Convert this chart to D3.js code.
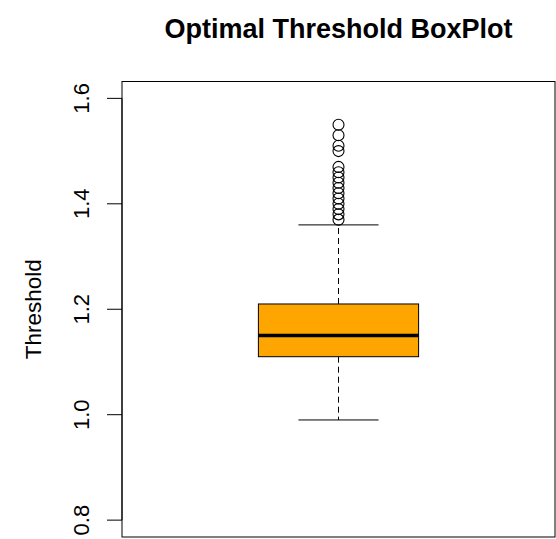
<!DOCTYPE html>
<html>
<head>
<meta charset="utf-8">
<script src="https://cdn.jsdelivr.net/npm/d3@7"></script>
<style>
  body { margin: 0; background: #fff; }
  svg { font-family: "Liberation Sans", Arial, sans-serif; }
</style>
</head>
<body>
<div id="chart"></div>
<script>
// box statistics
const quartiles = [1.11, 1.15, 1.21];   // Q1, median, Q3
const whiskers = [0.99, 1.36];         // lower, upper
const outliers = [1.55, 1.53, 1.51, 1.50, 1.47, 1.46, 1.45, 1.44, 1.43, 1.42, 1.41, 1.40, 1.39, 1.38, 1.37];
const yTicks = [0.8, 1.0, 1.2, 1.4, 1.6];
const yLimits = [0.8, 1.6];

const width = 556, height = 539;
const plot = { left: 122, right: 555, top: 81.5, bottom: 537 };

const svg = d3.select("#chart").append("svg")
  .attr("width", width)
  .attr("height", height);

// R extends the limits by 4%
const pad = (yLimits[1] - yLimits[0]) * 0.04;
const y = d3.scaleLinear()
  .domain([yLimits[0] - pad, yLimits[1] + pad])
  .range([plot.bottom, plot.top]);

const x = d3.scaleBand()
  .domain(["Threshold"])
  .range([plot.left, plot.right]);

const cx = x("Threshold") + x.bandwidth() / 2;
const boxHalf = x.bandwidth() * 0.185;
const capHalf = boxHalf / 2;

// whiskers (dashed)
svg.append("line")
  .attr("x1", cx).attr("x2", cx)
  .attr("y1", y(quartiles[2])).attr("y2", y(whiskers[1]))
  .attr("stroke", "#000").attr("stroke-dasharray", "6,4");
svg.append("line")
  .attr("x1", cx).attr("x2", cx)
  .attr("y1", y(quartiles[0])).attr("y2", y(whiskers[0]))
  .attr("stroke", "#000").attr("stroke-dasharray", "6,4");

// caps
svg.selectAll("line.cap")
  .data(whiskers)
  .enter()
  .append("line")
  .attr("class", "cap")
  .attr("x1", cx - capHalf).attr("x2", cx + capHalf)
  .attr("y1", d => y(d)).attr("y2", d => y(d))
  .attr("stroke", "#000");

// box
svg.append("rect")
  .attr("x", cx - boxHalf)
  .attr("y", y(quartiles[2]))
  .attr("width", boxHalf * 2)
  .attr("height", y(quartiles[0]) - y(quartiles[2]))
  .attr("fill", "#ffa500")
  .attr("stroke", "#000")
  .attr("stroke-width", 1);

// median
svg.append("line")
  .attr("x1", cx - boxHalf).attr("x2", cx + boxHalf)
  .attr("y1", y(quartiles[1])).attr("y2", y(quartiles[1]))
  .attr("stroke", "#000")
  .attr("stroke-width", 3.5);

// outliers
svg.selectAll("circle.out")
  .data(outliers)
  .enter()
  .append("circle")
  .attr("class", "out")
  .attr("cx", cx)
  .attr("cy", d => y(d))
  .attr("r", 5.5)
  .attr("fill", "none")
  .attr("stroke", "#000")
  .attr("stroke-width", 1.1);

// plot frame
svg.append("rect")
  .attr("x", plot.left).attr("y", plot.top)
  .attr("width", plot.right - plot.left)
  .attr("height", plot.bottom - plot.top)
  .attr("fill", "none")
  .attr("stroke", "#000");

// y axis, R style (rotated labels)
const axis = svg.append("g");
axis.append("line")
  .attr("x1", plot.left).attr("x2", plot.left)
  .attr("y1", y(yTicks[0])).attr("y2", y(yTicks[yTicks.length - 1]))
  .attr("stroke", "#000");
axis.selectAll("line.tick")
  .data(yTicks)
  .enter()
  .append("line")
  .attr("class", "tick")
  .attr("x1", plot.left - 15).attr("x2", plot.left)
  .attr("y1", d => y(d)).attr("y2", d => y(d))
  .attr("stroke", "#000");
axis.selectAll("text")
  .data(yTicks)
  .enter()
  .append("text")
  .attr("transform", d => `translate(${plot.left - 33.5},${y(d)}) rotate(-90)`)
  .attr("text-anchor", "middle")
  .attr("font-size", 22)
  .text(d => d.toFixed(1));

// y label
svg.append("text")
  .attr("transform", `translate(41,${(plot.top + plot.bottom) / 2}) rotate(-90)`)
  .attr("text-anchor", "middle")
  .attr("font-size", 22.5)
  .text("Threshold");

// title
svg.append("text")
  .attr("x", (plot.left + plot.right) / 2)
  .attr("y", 38)
  .attr("text-anchor", "middle")
  .attr("font-size", 27)
  .attr("font-weight", "bold")
  .text("Optimal Threshold BoxPlot");
</script>
</body>
</html>
